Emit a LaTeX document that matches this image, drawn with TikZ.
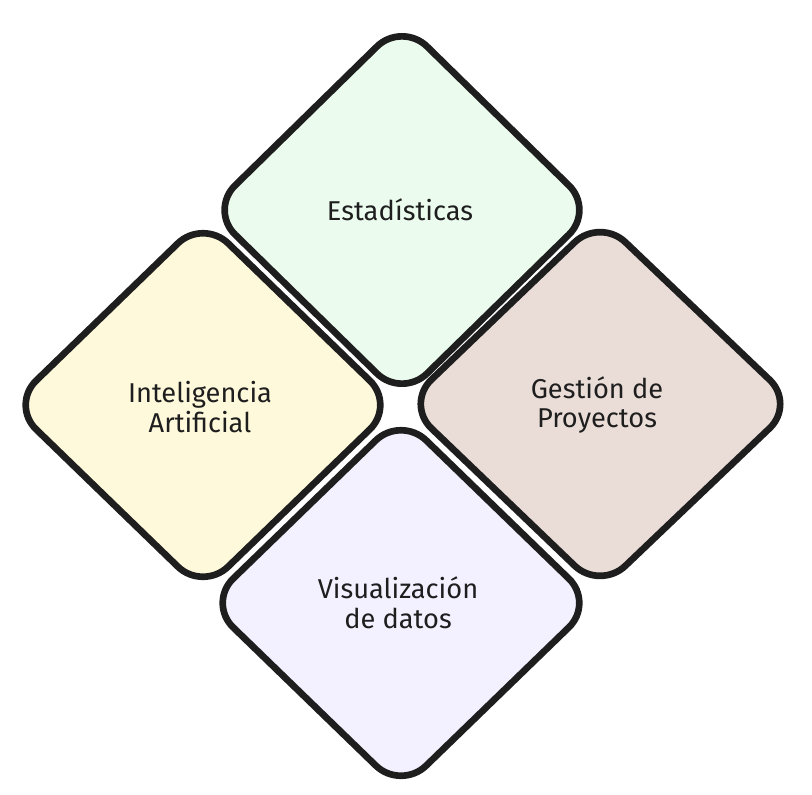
\documentclass[tikz,border=0pt]{standalone}
\usepackage{fontspec}
\setmainfont{Fira Sans}

\definecolor{ink}{HTML}{1E1E1E}
\definecolor{mint}{HTML}{EBFBEE}
\definecolor{cream}{HTML}{FFF9DB}
\definecolor{sand}{HTML}{EADDD7}
\definecolor{lilac}{HTML}{F3F0FF}

\begin{document}
\begin{tikzpicture}[x=0.02cm, y=-0.02cm,
        tile/.style={draw=ink, line width=3.8pt, rounded corners=0.7cm, line join=round},
        tiletext/.style={text=ink, font=\fontsize{15.5}{17}\selectfont, align=center}]

        \useasboundingbox (0,0) rectangle (812,795);

        % diamond tiles
        \filldraw[tile, fill=mint]  (402,22)  -- (594,210) -- (402,398) -- (210,210) -- cycle;
        \filldraw[tile, fill=cream] (203,219) -- (395,405) -- (203,591) -- (11,405)  -- cycle;
        \filldraw[tile, fill=sand]  (600,218) -- (795,404) -- (600,590) -- (406,404) -- cycle;
        \filldraw[tile, fill=lilac] (401,416) -- (594,603) -- (401,790) -- (208,603) -- cycle;

        % Add text labels
        \node[tiletext] (estad)   at (400,210) {Estadísticas};
        \node[tiletext] (intel)   at (200,407) {Inteligencia\\Artificial};
        \node[tiletext] (gestion) at (597,405) {Gestión de\\Proyectos};
        \node[tiletext] (visual)  at (398,603) {Visualización\\de datos};
    \end{tikzpicture}
\end{document}
